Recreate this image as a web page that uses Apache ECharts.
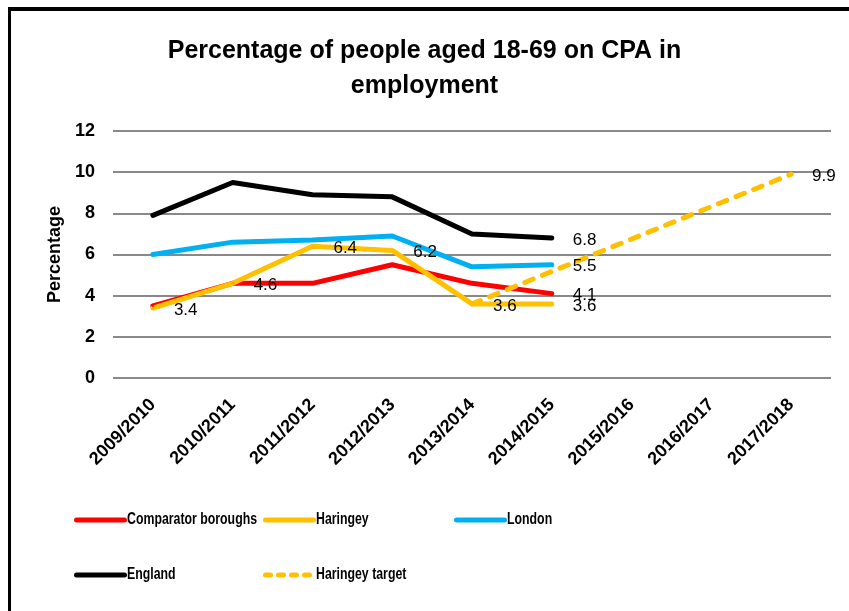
<!DOCTYPE html>
<html>
<head>
<meta charset="utf-8">
<script src="https://cdn.jsdelivr.net/npm/echarts@6/dist/echarts.min.js"></script>
<style>
  html, body { margin: 0; padding: 0; background: #fff; }
  #chart { width: 849px; height: 611px; }
</style>
</head>
<body>
<div id="chart"></div>
<script>
// Financial years on the x axis
const years = ['2009/2010', '2010/2011', '2011/2012', '2012/2013', '2013/2014',
               '2014/2015', '2015/2016', '2016/2017', '2017/2018'];

// Percentage of people aged 18-69 on CPA in employment
const comparator = [3.5, 4.6, 4.6, 5.5, 4.6, 4.1];
const haringey   = [3.4, 4.6, 6.4, 6.2, 3.6, 3.6];
const london     = [6.0, 6.6, 6.7, 6.9, 5.4, 5.5];
const england    = [7.9, 9.5, 8.9, 8.8, 7.0, 6.8];
// Target runs from the 2013/2014 figure to the 2017/2018 goal
const haringeyTarget = [null, null, null, null, 3.6, null, null, null, 9.9];

const yTicks = [0, 2, 4, 6, 8, 10, 12];

const seriesNames = ['Comparator boroughs', 'Haringey', 'London', 'England', 'Haringey target'];

const FONT = "'Liberation Sans', Arial, sans-serif";

function lastOnly(arr) {
  let last = -1;
  arr.forEach((v, i) => { if (v != null) last = i; });
  return p => (p.dataIndex === last ? p.value.toFixed(1) : '');
}

const valueLabel = {
  show: true,
  position: 'right',
  distance: 20,
  offset: [0, 2],
  color: '#000',
  fontFamily: FONT,
  fontSize: 17
};

function lineSeries(name, data, color, opts) {
  opts = opts || {};
  return {
    name: name,
    type: 'line',
    data: data,
    connectNulls: !!opts.connect,
    symbol: 'circle',
    symbolSize: 2,
    itemStyle: { color: color },
    lineStyle: {
      color: color,
      width: 5,
      type: opts.dash || 'solid',
      cap: 'round',
      join: 'round'
    },
    label: Object.assign({}, valueLabel, {
      formatter: opts.all ? (p => p.value.toFixed(1)) : lastOnly(data)
    }),
    emphasis: { disabled: true },
    animation: false
  };
}

// One legend block per entry so the entries sit in fixed columns;
// the entry names are drawn as condensed text next to each key line.
function legendAt(name, left, top, dash) {
  return {
    data: [name],
    left: left,
    top: top,
    padding: 0,
    itemWidth: 48,
    itemHeight: 12,
    itemGap: 0,
    selectedMode: false,
    formatter: () => '',
    itemStyle: { opacity: 0 },
    lineStyle: { width: 5, cap: 'round', type: dash || 'inherit' },
    textStyle: { fontSize: 1, padding: 0 }
  };
}

function legendText(name, x, y) {
  return {
    type: 'text',
    x: x,
    y: y,
    scaleX: 0.77,
    silent: true,
    style: {
      text: name,
      fill: '#000',
      font: "bold 16px " + FONT,
      textVerticalAlign: 'middle',
      verticalAlign: 'middle'
    }
  };
}

const chart = echarts.init(document.getElementById('chart'), null, { renderer: 'canvas' });

chart.setOption({
  backgroundColor: '#fff',
  animation: false,
  title: {
    text: 'Percentage of people aged 18-69 on CPA in\nemployment',
    left: 'center',
    top: 34,
    padding: 0,
    textStyle: {
      fontFamily: FONT,
      fontWeight: 'bold',
      fontSize: 25,
      lineHeight: 35,
      color: '#000'
    }
  },
  graphic: [
    { type: 'rect', shape: { x: 8, y: 7, width: 841, height: 4 }, style: { fill: '#000' }, silent: true },
    { type: 'rect', shape: { x: 8, y: 7, width: 3, height: 604 }, style: { fill: '#000' }, silent: true },
    legendText(seriesNames[0], 127, 520),
    legendText(seriesNames[1], 316, 520),
    legendText(seriesNames[2], 507, 520),
    legendText(seriesNames[3], 127, 575),
    legendText(seriesNames[4], 316, 575)
  ],
  legend: [
    legendAt(seriesNames[0], 74, 514),
    legendAt(seriesNames[1], 263, 514),
    legendAt(seriesNames[2], 454, 514),
    legendAt(seriesNames[3], 74, 569),
    legendAt(seriesNames[4], 263, 569, [5, 8])
  ],
  grid: { left: 113, right: 18, top: 131, bottom: 233, containLabel: false },
  xAxis: {
    type: 'category',
    data: years,
    boundaryGap: true,
    axisLine: { show: false },
    axisTick: { show: false },
    axisLabel: {
      interval: 0,
      rotate: 45,
      margin: 24,
      color: '#000',
      fontFamily: FONT,
      fontWeight: 'bold',
      fontSize: 18
    }
  },
  yAxis: {
    type: 'value',
    min: yTicks[0],
    max: yTicks[yTicks.length - 1],
    interval: yTicks[1] - yTicks[0],
    name: 'Percentage',
    nameLocation: 'middle',
    nameGap: 45,
    nameTextStyle: {
      color: '#000',
      fontFamily: FONT,
      fontWeight: 'bold',
      fontSize: 18
    },
    axisLine: { show: false },
    axisTick: { show: false },
    splitLine: { lineStyle: { color: '#898989', width: 2 } },
    axisLabel: {
      margin: 18,
      color: '#000',
      fontFamily: FONT,
      fontWeight: 'bold',
      fontSize: 18
    }
  },
  series: [
    lineSeries(seriesNames[0], comparator, '#FF0000'),
    lineSeries(seriesNames[1], haringey, '#FFC000', { all: true }),
    lineSeries(seriesNames[2], london, '#00B0F0'),
    lineSeries(seriesNames[3], england, '#000000'),
    lineSeries(seriesNames[4], haringeyTarget, '#FFC000', { connect: true, dash: [9, 10] })
  ]
});
</script>
</body>
</html>
